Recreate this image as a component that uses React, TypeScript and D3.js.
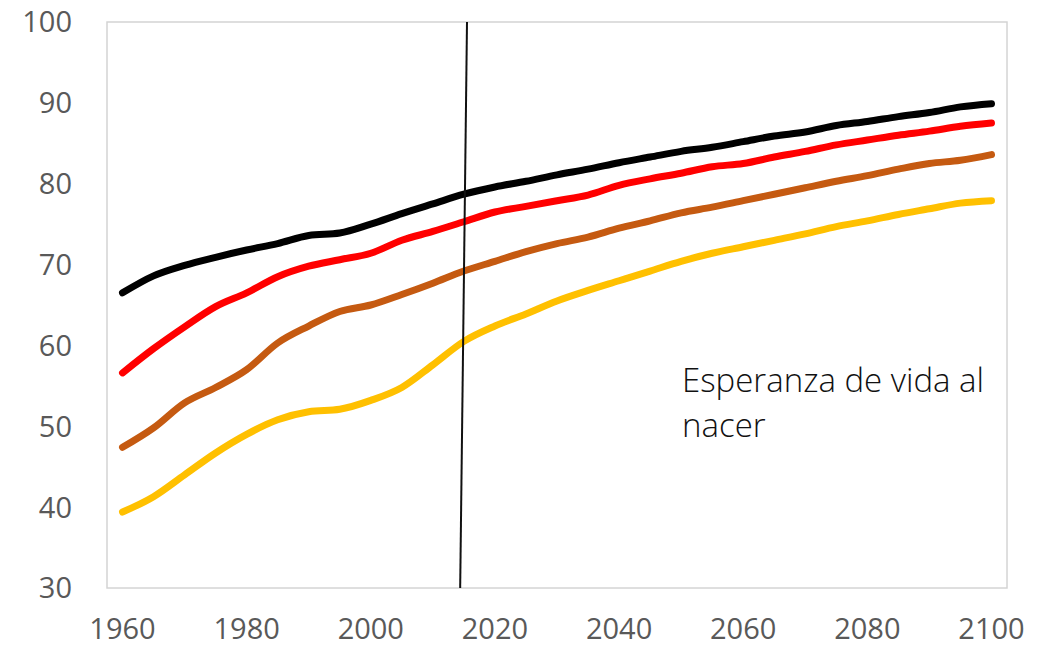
import React from "react";
import * as d3 from "d3";

const years: number[] = [
  1960, 1965, 1970, 1975, 1980, 1985, 1990, 1995, 2000, 2005, 2010, 2015, 2020, 2025, 2030,
  2035, 2040, 2045, 2050, 2055, 2060, 2065, 2070, 2075, 2080, 2085, 2090, 2095, 2100,
];

const seriesBlack: number[] = [
  66.5, 68.6, 69.9, 70.9, 71.8, 72.6, 73.6, 73.9, 75.0, 76.3, 77.5, 78.7, 79.6, 80.3, 81.1,
  81.8, 82.6, 83.3, 84.0, 84.5, 85.2, 85.9, 86.4, 87.2, 87.7, 88.3, 88.8, 89.5, 89.9,
];
const seriesRed: number[] = [
  56.6, 59.6, 62.3, 64.8, 66.5, 68.5, 69.8, 70.6, 71.4, 73.0, 74.1, 75.3, 76.5, 77.2, 77.9,
  78.6, 79.8, 80.6, 81.3, 82.1, 82.5, 83.3, 84.0, 84.8, 85.4, 86.0, 86.5, 87.1, 87.5,
];
const seriesBrown: number[] = [
  47.4, 49.8, 52.9, 54.8, 57.0, 60.3, 62.4, 64.2, 65.0, 66.3, 67.7, 69.2, 70.4, 71.6, 72.6,
  73.4, 74.5, 75.4, 76.4, 77.1, 77.9, 78.7, 79.5, 80.3, 81.0, 81.8, 82.5, 82.9, 83.6,
];
const seriesYellow: number[] = [
  39.4, 41.3, 44.0, 46.7, 49.0, 50.8, 51.8, 52.1, 53.2, 54.8, 57.6, 60.5, 62.4, 63.9, 65.5,
  66.8, 68.0, 69.2, 70.4, 71.4, 72.2, 73.0, 73.8, 74.7, 75.4, 76.2, 76.9, 77.6, 77.9,
];

const seriesColors: string[] = ["#000000", "#FF0000", "#C55A11", "#FFC000"];
const yTicks: number[] = [30, 40, 50, 60, 70, 80, 90, 100];
const xTickLabels: number[] = [1960, 1980, 2000, 2020, 2040, 2060, 2080, 2100];
const markerYearTop = 2015.5;
const markerYearBottom = 2014.4;
const annotationLines: string[] = ["Esperanza de vida al", "nacer"];

export default function App() {
  const W = 1058;
  const H = 648;
  const plot = { left: 107, right: 1007, top: 22, bottom: 588 };

  const x = d3
    .scalePoint<number>()
    .domain(years)
    .range([plot.left, plot.right])
    .padding(0.5);
  const xYear = d3
    .scaleLinear()
    .domain([1960, 2100])
    .range([x(1960) as number, x(2100) as number]);
  const y = d3.scaleLinear().domain([30, 100]).range([plot.bottom, plot.top]);

  const line = d3
    .line<number>()
    .x((_, i) => x(years[i]) as number)
    .y((d) => y(d))
    .curve(d3.curveMonotoneX);

  const allSeries = [seriesBlack, seriesRed, seriesBrown, seriesYellow];
  const tickFont = "'Open Sans', 'DejaVu Sans', sans-serif";

  return (
    <svg
      width={W}
      height={H}
      style={{ position: "absolute", left: 0, top: 0, background: "#fff" }}
    >
      <rect x={0} y={0} width={W} height={H} fill="#ffffff" />
      <rect
        x={plot.left}
        y={plot.top}
        width={plot.right - plot.left}
        height={plot.bottom - plot.top}
        fill="none"
        stroke="#d4d4d4"
        strokeWidth={1.5}
      />
      {yTicks.map((t) => (
        <text
          key={"y" + t}
          x={72}
          y={y(t)}
          dy="0.36em"
          textAnchor="end"
          fontFamily={tickFont}
          fontSize={29}
          fill="#595959"
        >
          {t}
        </text>
      ))}
      {xTickLabels.map((t) => (
        <text
          key={"x" + t}
          x={x(t) as number}
          y={629}
          dy="0.36em"
          textAnchor="middle"
          fontFamily={tickFont}
          fontSize={29}
          fill="#595959"
        >
          {t}
        </text>
      ))}
      {allSeries.map((s, k) => (
        <path
          key={"s" + k}
          d={line(s) || ""}
          fill="none"
          stroke={seriesColors[k]}
          strokeWidth={7}
          strokeLinecap="round"
          strokeLinejoin="round"
        />
      ))}
      <line
        x1={xYear(markerYearTop)}
        y1={plot.top}
        x2={xYear(markerYearBottom)}
        y2={plot.bottom}
        stroke="#111"
        strokeWidth={2}
      />
      {annotationLines.map((l, i) => (
        <text
          key={"a" + i}
          x={682}
          y={392 + i * 45}
          fontFamily={tickFont}
          fontWeight={300}
          fontSize={33}
          fill="#111"
        >
          {l}
        </text>
      ))}
    </svg>
  );
}
